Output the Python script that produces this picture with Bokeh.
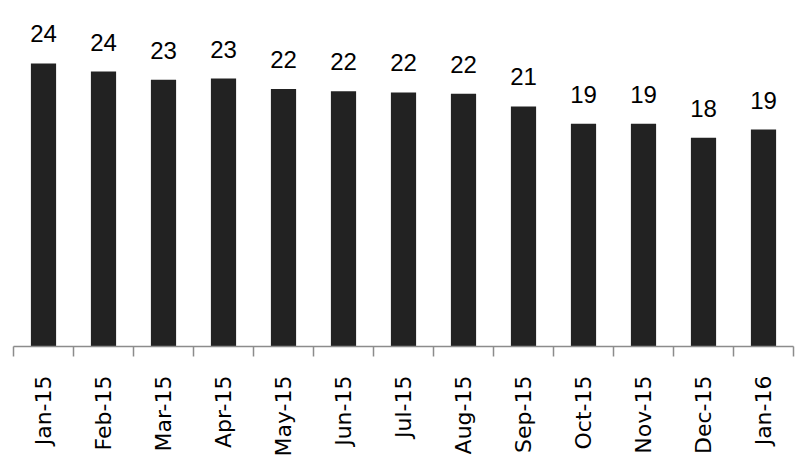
import numpy as np
from bokeh.plotting import figure
from bokeh.models import ColumnDataSource, Range1d, FixedTicker
from bokeh.core.properties import value
from bokeh.embed import file_html
from bokeh.resources import INLINE

months = ["Jan-15", "Feb-15", "Mar-15", "Apr-15", "May-15", "Jun-15", "Jul-15",
          "Aug-15", "Sep-15", "Oct-15", "Nov-15", "Dec-15", "Jan-16"]
values = [24.4, 23.7, 23.0, 23.1, 22.2, 22.0, 21.9, 21.8, 20.7, 19.2, 19.2, 18.0, 18.7]

n = len(months)
centers = [i + 0.5 for i in range(n)]
labels = ["%.0f" % v for v in values]

src = ColumnDataSource(dict(x=centers, top=values, label=labels))

p = figure(width=807, height=462, output_backend="svg", toolbar_location=None,
           x_range=Range1d(0, n), y_range=Range1d(0, 29.83),
           min_border_left=13, min_border_right=14, min_border_top=0,
           min_border_bottom=116)
p.outline_line_color = None
p.background_fill_color = "white"
p.xgrid.visible = False
p.ygrid.visible = False
p.yaxis.visible = False

p.vbar(x="x", top="top", bottom=0, width=0.42, source=src,
       fill_color="#222222", line_color=None)

p.text(x="x", y="top", text="label", source=src, text_align="center",
       text_baseline="bottom", y_offset=-21,
       text_font=value("Liberation Sans"), text_font_size="24px",
       text_color="#000000")

ax = p.xaxis[0]
ax.ticker = FixedTicker(ticks=centers, minor_ticks=list(range(n + 1)))
ax.major_label_overrides = {c: m for c, m in zip(centers, months)}
ax.major_tick_line_color = None
ax.major_tick_out = 0
ax.major_tick_in = 0
ax.minor_tick_out = 10
ax.minor_tick_in = 0
ax.minor_tick_line_color = "#8c8c8c"
ax.minor_tick_line_width = 1.5
ax.axis_line_color = "#8c8c8c"
ax.axis_line_width = 1.5
ax.major_label_orientation = np.pi / 2
ax.major_label_standoff = 19
ax.major_label_text_font = "DejaVu Sans"
ax.major_label_text_font_size = "22px"
ax.major_label_text_color = "#000000"

open("out.html", "w").write(file_html(p, INLINE))
